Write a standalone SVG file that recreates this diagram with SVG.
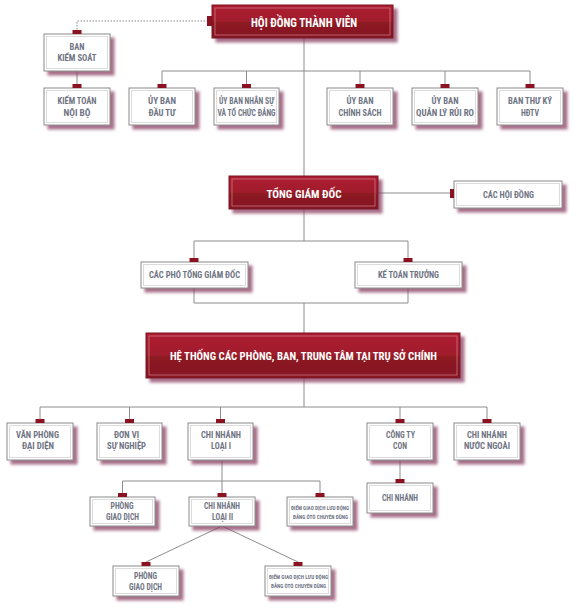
<svg xmlns="http://www.w3.org/2000/svg" width="574" height="610" viewBox="0 0 574 610">
<style>
.wb{fill:#fff;stroke:#8a8a8a;stroke-width:1}
.wi{fill:none;stroke:#dcdcdc;stroke-width:1}
.rb{fill:url(#rg);stroke:#7a1420;stroke-width:1}
.ri{fill:none;stroke:#d88a92;stroke-width:0.8;opacity:0.8}
.tab{fill:#8b1220}
.t{font-family:"Liberation Sans Narrow","Roboto Condensed","DejaVu Sans Condensed","Liberation Sans",sans-serif;font-weight:bold;fill:#6f7484;text-anchor:middle;font-size:9px}
.ts{font-size:5.3px}
.tr{font-family:"Liberation Sans Narrow","Roboto Condensed","DejaVu Sans Condensed","Liberation Sans",sans-serif;font-weight:bold;fill:#fff;text-anchor:middle}
.ln{fill:none;stroke:#8c8c8c;stroke-width:1}
.dot{fill:none;stroke:#8c8c8c;stroke-width:1;stroke-dasharray:1.5 1.5}
.sh{filter:url(#ds)}
</style>
<defs>
<linearGradient id="rg" x1="0" y1="0" x2="0" y2="1">
<stop offset="0" stop-color="#ad1f31"/>
<stop offset="0.5" stop-color="#a01c2c"/>
<stop offset="0.52" stop-color="#8c1a24"/>
<stop offset="1" stop-color="#851720"/>
</linearGradient>
<filter id="ds" x="-10%" y="-20%" width="130%" height="160%">
<feDropShadow dx="4" dy="4" stdDeviation="1.4" flood-color="#8a3c62" flood-opacity="0.75"/>
</filter>
</defs>
<rect width="574" height="610" fill="#fff"/>

<g id="connectors">
<path class="dot" d="M208,21 H77 V30"/>
<path class="ln" d="M77,71 V84"/>
<path class="ln" d="M304,38 V176"/>
<path class="ln" d="M162,84 V71 H530 V84 M246.5,71 V84 M360,71 V84 M445,71 V84"/>
<path class="ln" d="M378,193 H450"/>
<path class="ln" d="M304,209 V241 M194,258 V241 H408 V258"/>
<path class="ln" d="M194,288 V303 H408 V288 M304,303 V333"/>
<path class="ln" d="M304,378 V407 M40,419 V407 H487 V419 M129.5,407 V419 M220.5,407 V419 M400,407 V419"/>
<path class="ln" d="M400,460 V479"/>
<path class="ln" d="M222,460 V481 M122.5,493 V481 H320 V493 M222,481 V493"/>
<path class="ln" d="M222,526 L146,562 M222,526 L298,562"/>
</g>

<g id="hdtv">
<rect class="rb sh" x="212" y="5" width="181" height="33"/>
<rect class="ri" x="215" y="8" width="175" height="27"/>
<rect class="tab" x="207" y="16" width="5" height="10"/>
<text class="tr" x="304" y="27" font-size="13" textLength="106" lengthAdjust="spacingAndGlyphs">HỘI ĐỒNG THÀNH VIÊN</text>
</g>

<g id="ban-kiem-soat">
<rect class="wb sh" x="44" y="34" width="66" height="37"/>
<rect class="wi" x="46.5" y="36.5" width="61" height="32"/>
<rect class="tab" x="72.5" y="30" width="9" height="4"/>
<text class="t" x="77" y="49.5" textLength="15" lengthAdjust="spacingAndGlyphs">BAN</text>
<text class="t" x="77" y="61" textLength="39" lengthAdjust="spacingAndGlyphs">KIỂM SOÁT</text>
</g>

<g id="kiem-toan-noi-bo">
<rect class="wb sh" x="44" y="88" width="66" height="37"/>
<rect class="wi" x="46.5" y="90.5" width="61" height="32"/>
<rect class="tab" x="72.5" y="84" width="9" height="4"/>
<text class="t" x="77" y="104" textLength="39" lengthAdjust="spacingAndGlyphs">KIỂM TOÁN</text>
<text class="t" x="77" y="116" textLength="27" lengthAdjust="spacingAndGlyphs">NỘI BỘ</text>
</g>

<g id="uy-ban-dau-tu">
<rect class="wb sh" x="129" y="88" width="66" height="37"/>
<rect class="wi" x="131.5" y="90.5" width="61" height="32"/>
<rect class="tab" x="157.5" y="84" width="9" height="4"/>
<text class="t" x="162" y="104" textLength="28" lengthAdjust="spacingAndGlyphs">ỦY BAN</text>
<text class="t" x="162" y="116" textLength="27" lengthAdjust="spacingAndGlyphs">ĐẦU TƯ</text>
</g>

<g id="uy-ban-nhan-su">
<rect class="wb sh" x="214" y="88" width="65" height="37"/>
<rect class="wi" x="216.5" y="90.5" width="60" height="32"/>
<rect class="tab" x="242" y="84" width="9" height="4"/>
<text class="t" x="246.5" y="104" textLength="55" lengthAdjust="spacingAndGlyphs">ỦY BAN NHÂN SỰ</text>
<text class="t" x="246.5" y="116" textLength="58" lengthAdjust="spacingAndGlyphs">VÀ TỔ CHỨC ĐẢNG</text>
</g>

<g id="uy-ban-chinh-sach">
<rect class="wb sh" x="327" y="88" width="66" height="37"/>
<rect class="wi" x="329.5" y="90.5" width="61" height="32"/>
<rect class="tab" x="355.5" y="84" width="9" height="4"/>
<text class="t" x="360" y="104" textLength="27" lengthAdjust="spacingAndGlyphs">ỦY BAN</text>
<text class="t" x="360" y="116" textLength="43" lengthAdjust="spacingAndGlyphs">CHÍNH SÁCH</text>
</g>

<g id="uy-ban-qlrr">
<rect class="wb sh" x="412" y="88" width="66" height="37"/>
<rect class="wi" x="414.5" y="90.5" width="61" height="32"/>
<rect class="tab" x="440.5" y="84" width="9" height="4"/>
<text class="t" x="445" y="104" textLength="27" lengthAdjust="spacingAndGlyphs">ỦY BAN</text>
<text class="t" x="445" y="116" textLength="58" lengthAdjust="spacingAndGlyphs">QUẢN LÝ RỦI RO</text>
</g>

<g id="ban-thu-ky">
<rect class="wb sh" x="497" y="88" width="66" height="37"/>
<rect class="wi" x="499.5" y="90.5" width="61" height="32"/>
<rect class="tab" x="525.5" y="84" width="9" height="4"/>
<text class="t" x="530" y="104" textLength="44" lengthAdjust="spacingAndGlyphs">BAN THƯ KÝ</text>
<text class="t" x="530" y="116" textLength="18" lengthAdjust="spacingAndGlyphs">HĐTV</text>
</g>

<g id="tong-giam-doc">
<rect class="rb sh" x="229" y="176" width="149" height="33"/>
<rect class="ri" x="232" y="179" width="143" height="27"/>
<text class="tr" x="304" y="198" font-size="11.5" textLength="75" lengthAdjust="spacingAndGlyphs">TỔNG GIÁM ĐỐC</text>
</g>

<g id="cac-hoi-dong">
<rect class="wb sh" x="454" y="181" width="108" height="27"/>
<rect class="wi" x="456.5" y="183.5" width="103" height="22"/>
<rect class="tab" x="450" y="189" width="4" height="9"/>
<text class="t" x="508.5" y="198" textLength="51" lengthAdjust="spacingAndGlyphs">CÁC HỘI ĐỒNG</text>
</g>

<g id="cac-pho-tgd">
<rect class="wb sh" x="141" y="262" width="107" height="26"/>
<rect class="wi" x="143.5" y="264.5" width="102" height="21"/>
<rect class="tab" x="189.5" y="258" width="9" height="4"/>
<text class="t" x="194.5" y="278" textLength="91" lengthAdjust="spacingAndGlyphs">CÁC PHÓ TỔNG GIÁM ĐỐC</text>
</g>

<g id="ke-toan-truong">
<rect class="wb sh" x="355" y="262" width="107" height="26"/>
<rect class="wi" x="357.5" y="264.5" width="102" height="21"/>
<rect class="tab" x="403.5" y="258" width="9" height="4"/>
<text class="t" x="408.5" y="278" textLength="61" lengthAdjust="spacingAndGlyphs">KẾ TOÁN TRƯỞNG</text>
</g>

<g id="he-thong">
<rect class="rb sh" x="146" y="333" width="314" height="45"/>
<rect class="ri" x="149" y="336" width="308" height="39"/>
<text class="tr" x="303.5" y="360" font-size="11.5" textLength="267" lengthAdjust="spacingAndGlyphs">HỆ THỐNG CÁC PHÒNG, BAN, TRUNG TÂM TẠI TRỤ SỞ CHÍNH</text>
</g>

<g id="van-phong-dai-dien">
<rect class="wb sh" x="7" y="423" width="66" height="37"/>
<rect class="wi" x="9.5" y="425.5" width="61" height="32"/>
<rect class="tab" x="35.5" y="419" width="9" height="4"/>
<text class="t" x="37.5" y="438" textLength="43" lengthAdjust="spacingAndGlyphs">VĂN PHÒNG</text>
<text class="t" x="38" y="449" textLength="32" lengthAdjust="spacingAndGlyphs">ĐẠI DIỆN</text>
</g>

<g id="don-vi-su-nghiep">
<rect class="wb sh" x="97" y="423" width="65" height="37"/>
<rect class="wi" x="99.5" y="425.5" width="60" height="32"/>
<rect class="tab" x="125" y="419" width="9" height="4"/>
<text class="t" x="126.5" y="438" textLength="25" lengthAdjust="spacingAndGlyphs">ĐƠN VỊ</text>
<text class="t" x="126.5" y="449" textLength="39" lengthAdjust="spacingAndGlyphs">SỰ NGHIỆP</text>
</g>

<g id="chi-nhanh-loai-1">
<rect class="wb sh" x="188" y="423" width="65" height="37"/>
<rect class="wi" x="190.5" y="425.5" width="60" height="32"/>
<rect class="tab" x="216" y="419" width="9" height="4"/>
<text class="t" x="221" y="438" textLength="40" lengthAdjust="spacingAndGlyphs">CHI NHÁNH</text>
<text class="t" x="221" y="449" textLength="20" lengthAdjust="spacingAndGlyphs">LOẠI I</text>
</g>

<g id="cong-ty-con">
<rect class="wb sh" x="367" y="423" width="66" height="37"/>
<rect class="wi" x="369.5" y="425.5" width="61" height="32"/>
<rect class="tab" x="395.5" y="419" width="9" height="4"/>
<text class="t" x="400.5" y="438" textLength="29" lengthAdjust="spacingAndGlyphs">CÔNG TY</text>
<text class="t" x="400" y="449" textLength="14" lengthAdjust="spacingAndGlyphs">CON</text>
</g>

<g id="chi-nhanh-nuoc-ngoai">
<rect class="wb sh" x="454" y="423" width="66" height="37"/>
<rect class="wi" x="456.5" y="425.5" width="61" height="32"/>
<rect class="tab" x="482.5" y="419" width="9" height="4"/>
<text class="t" x="487" y="438" textLength="40" lengthAdjust="spacingAndGlyphs">CHI NHÁNH</text>
<text class="t" x="487" y="449" textLength="46" lengthAdjust="spacingAndGlyphs">NƯỚC NGOÀI</text>
</g>

<g id="chi-nhanh-cty">
<rect class="wb sh" x="367" y="483" width="66" height="30"/>
<rect class="wi" x="369.5" y="485.5" width="61" height="25"/>
<rect class="tab" x="395.5" y="479" width="9" height="4"/>
<text class="t" x="400" y="500.5" textLength="36" lengthAdjust="spacingAndGlyphs">CHI NHÁNH</text>
</g>

<g id="phong-giao-dich-1">
<rect class="wb sh" x="90" y="497" width="65" height="29"/>
<rect class="wi" x="92.5" y="499.5" width="60" height="24"/>
<rect class="tab" x="118" y="493" width="9" height="4"/>
<text class="t" x="122" y="509" textLength="23" lengthAdjust="spacingAndGlyphs">PHÒNG</text>
<text class="t" x="122.5" y="519.5" textLength="33" lengthAdjust="spacingAndGlyphs">GIAO DỊCH</text>
</g>

<g id="chi-nhanh-loai-2">
<rect class="wb sh" x="189" y="497" width="66" height="29"/>
<rect class="wi" x="191.5" y="499.5" width="61" height="24"/>
<rect class="tab" x="217.5" y="493" width="9" height="4"/>
<text class="t" x="222" y="509" textLength="36" lengthAdjust="spacingAndGlyphs">CHI NHÁNH</text>
<text class="t" x="222.5" y="519.5" textLength="21" lengthAdjust="spacingAndGlyphs">LOẠI II</text>
</g>

<g id="diem-giao-dich-1">
<rect class="wb sh" x="287" y="497" width="66" height="29"/>
<rect class="wi" x="289.5" y="499.5" width="61" height="24"/>
<rect class="tab" x="315.5" y="493" width="9" height="4"/>
<text class="t ts" x="320" y="510" textLength="58" lengthAdjust="spacingAndGlyphs">ĐIỂM GIAO DỊCH LƯU ĐỘNG</text>
<text class="t ts" x="320.5" y="518.5" textLength="55" lengthAdjust="spacingAndGlyphs">BẰNG ÔTÔ CHUYÊN DÙNG</text>
</g>

<g id="phong-giao-dich-2">
<rect class="wb sh" x="113" y="566" width="66" height="30"/>
<rect class="wi" x="115.5" y="568.5" width="61" height="25"/>
<rect class="tab" x="141.5" y="562" width="9" height="4"/>
<text class="t" x="145.5" y="579" textLength="23" lengthAdjust="spacingAndGlyphs">PHÒNG</text>
<text class="t" x="145.5" y="589.5" textLength="33" lengthAdjust="spacingAndGlyphs">GIAO DỊCH</text>
</g>

<g id="diem-giao-dich-2">
<rect class="wb sh" x="265" y="566" width="66" height="30"/>
<rect class="wi" x="267.5" y="568.5" width="61" height="25"/>
<rect class="tab" x="293.5" y="562" width="9" height="4"/>
<text class="t ts" x="298.5" y="579" textLength="59" lengthAdjust="spacingAndGlyphs">ĐIỂM GIAO DỊCH LƯU ĐỘNG</text>
<text class="t ts" x="298.5" y="587.5" textLength="55" lengthAdjust="spacingAndGlyphs">BẰNG ÔTÔ CHUYÊN DÙNG</text>
</g>
</svg>
